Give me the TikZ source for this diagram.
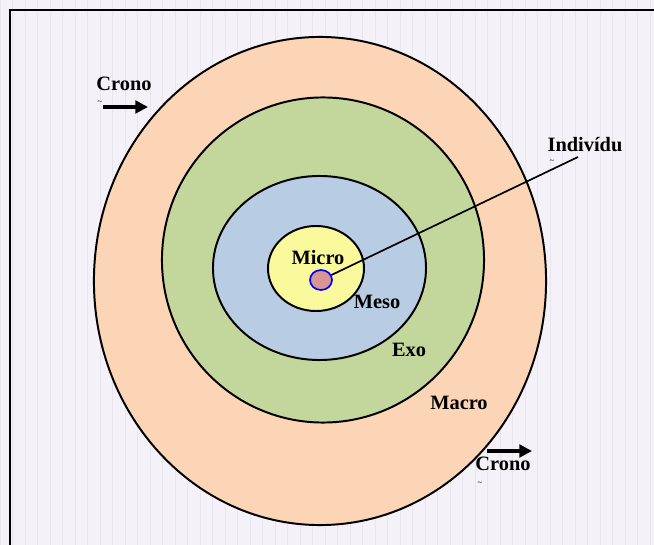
\documentclass[tikz,border=0pt]{standalone}
\usepackage{fontspec}
\setmainfont{Liberation Serif}
\usetikzlibrary{arrows.meta,shapes.geometric}

\definecolor{bgfill}{HTML}{F4F2F8}
\definecolor{gridline}{HTML}{E8E5EF}
\definecolor{macrofill}{HTML}{FBD5B5}
\definecolor{exofill}{HTML}{C3D69B}
\definecolor{mesofill}{HTML}{B8CCE4}
\definecolor{microfill}{HTML}{FAFA9C}
\definecolor{indfill}{HTML}{D99594}

\begin{document}
\begin{tikzpicture}[x=0.025cm,y=-0.025cm,
  ring/.style={draw,ellipse,line width=1.4pt,inner sep=0pt},
  lbl/.style={font=\fontsize{14.5}{16}\selectfont\bfseries},
  tick/.style={font=\fontsize{6}{6}\selectfont,inner sep=0pt},
  crono/.style={-{Triangle[length=9pt,width=9pt]},line width=2.2pt}]
\useasboundingbox (0,0) rectangle (654,545);
\fill[bgfill] (0,0) rectangle (654,545);
\draw[gridline,line width=0.6pt,step=12.5] (0,0) grid (654,545);
\draw[line width=1.5pt] (10,545) -- (10,10) -- (654,10);

% rings
\node[ring,fill=macrofill,minimum width=11.3cm,minimum height=12.2cm] (macro) at (320,281) {};
\node[ring,fill=exofill,minimum width=8.05cm,minimum height=8.125cm] (exo) at (323,260) {};
\node[ring,fill=mesofill,minimum width=5.325cm,minimum height=4.6cm] (meso) at (319.5,268) {};
\node[ring,fill=microfill,minimum width=2.4cm,minimum height=2.125cm] (micro) at (316,268.5) {};
\node[draw=blue,ellipse,line width=1.2pt,fill=indfill,inner sep=0pt,minimum width=0.55cm,minimum height=0.5cm] (ind) at (321,280) {};

% labels
\node[lbl] (lmicro) at (318,258) {Micro};
\node[lbl] (lmeso) at (377,302) {Meso};
\node[lbl] (lexo) at (409,350) {Exo};
\node[lbl] (lmacro) at (459,403) {Macro};
\node[lbl] (lind) at (585,145) {Indivídu};
\node[tick] (tind) at (552,162) {\textasciitilde};
\coordinate (indend) at (578,157);
\draw[line width=1.2pt] (ind) -- (indend);

% time arrows
\node[lbl] (crono1) at (124,84) {Crono};
\node[tick] (tcrono1) at (100,103) {\textasciitilde};
\coordinate (c1a) at (103,107);
\coordinate (c1b) at (148,107);
\draw[crono] (c1a) -- (c1b);
\node[lbl] (crono2) at (503,464) {Crono};
\node[tick] (tcrono2) at (480,484) {\textasciitilde};
\coordinate (c2a) at (487,451);
\coordinate (c2b) at (532,451);
\draw[crono] (c2a) -- (c2b);
\end{tikzpicture}
\end{document}
